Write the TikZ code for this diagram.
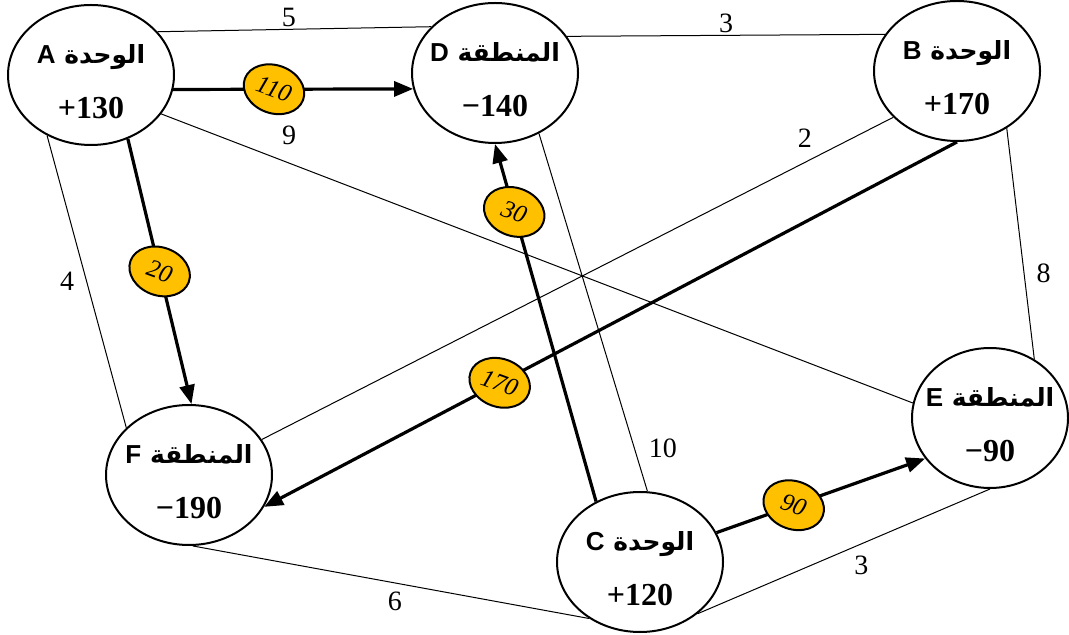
\documentclass[tikz,border=0pt]{standalone}
\usepackage{fontspec}
\setmainfont{Liberation Serif}
\newfontfamily\arabfont[Script=Arabic]{DejaVu Sans}
\newfontfamily\headfont{Liberation Sans}
\TeXXeTstate=1
\usetikzlibrary{
    arrows.meta,
    shapes.geometric
}
\definecolor{flowgold}{RGB}{255,192,0}
\tikzset{
    % Node styles
    site node/.style={
        draw,
        ellipse,
        line width=1pt,
        fill=white,
        minimum width=83pt,
        minimum height=70pt,
        inner sep=-6pt,
        align=center,
        font=\fontsize{16}{27.5}\selectfont\bfseries
    },
    % Edge styles
    cost line/.style={
        line width=0.5pt
    },
    flow arrow/.style={
        -{Triangle[length=9.5pt,width=7.5pt]},
        line width=1.6pt
    },
    % Label styles
    cost label/.style={
        font=\fontsize{14}{14}\selectfont,
        inner sep=1pt
    },
    flow label/.style={
        draw,
        ellipse,
        fill=flowgold,
        line width=1pt,
        rotate=-20,
        minimum width=31pt,
        minimum height=24pt,
        inner sep=0pt,
        font=\fontsize{12.5}{12.5}\selectfont\itshape
    }
}
\newcommand{\sitename}[2]{{\rule{0pt}{16pt}\arabfont\fontsize{12.5}{27.5}\selectfont\beginR #1 {\headfont\fontsize{13}{27.5}\selectfont #2}\endR}}

\begin{document}
\begin{tikzpicture}[x=0.5pt, y=-0.5pt]
    \useasboundingbox (0,0) rectangle (1069,635);

    % Nodes
    \node[site node] (A) at (91,75) {\sitename{الوحدة}{A}\\+130};
    \node[site node] (D) at (495,73) {\sitename{المنطقة}{D}\\−140};
    \node[site node] (B) at (957,71) {\sitename{الوحدة}{B}\\+170};
    \node[site node] (F) at (189,475) {\sitename{المنطقة}{F}\\−190};
    \node[site node] (C) at (640,562) {\sitename{الوحدة}{C}\\+120};
    \node[site node, minimum width=78pt] (E) at (990,418) {\sitename{المنطقة}{E}\\−90};

    % Cost lines
    \draw[cost line] (A.33) -- node[cost label, pos=.48, above] {5} (D.144);
    \draw[cost line] (D.27) -- node[cost label, pos=.5, above] {3} (B.153);
    \draw[cost line] (A.331) -- node[cost label, pos=.17, above=8pt] {9} (E.169);
    \draw[cost line] (A.234) -- node[cost label, pos=.5, left=5pt] {4} (F.143);
    \draw[cost line] (B.216) -- node[cost label, pos=.14, above=6pt] {2} (F.26);
    \draw[cost line] (B.311) -- node[cost label, pos=.63, right=5pt] {8} (E.53);
    \draw[cost line] (D.306) -- node[cost label, pos=.88, right=6pt] {10} (C.84);
    \draw[cost line] (F.273) -- node[cost label, pos=.51, below=3.5pt] {6} (C.228);
    \draw[cost line] (C.318) -- node[cost label, pos=.56, below=5pt] {3} (E.270);

    % Flow arrows
    \draw[flow arrow] (A.350) -- node[flow label, pos=.42] {110} (D.191);
    \draw[flow arrow] (A.300) -- node[flow label, pos=.5] {20} (F.88);
    \draw[flow arrow] (B.270) -- node[flow label, pos=.66] {170} (F.337);
    \draw[flow arrow] (C.126) -- node[flow label, pos=.81] {30} (D.270);
    \draw[flow arrow] (C.21) -- node[flow label, pos=.37] {90} (E.212);
\end{tikzpicture}
\end{document}
